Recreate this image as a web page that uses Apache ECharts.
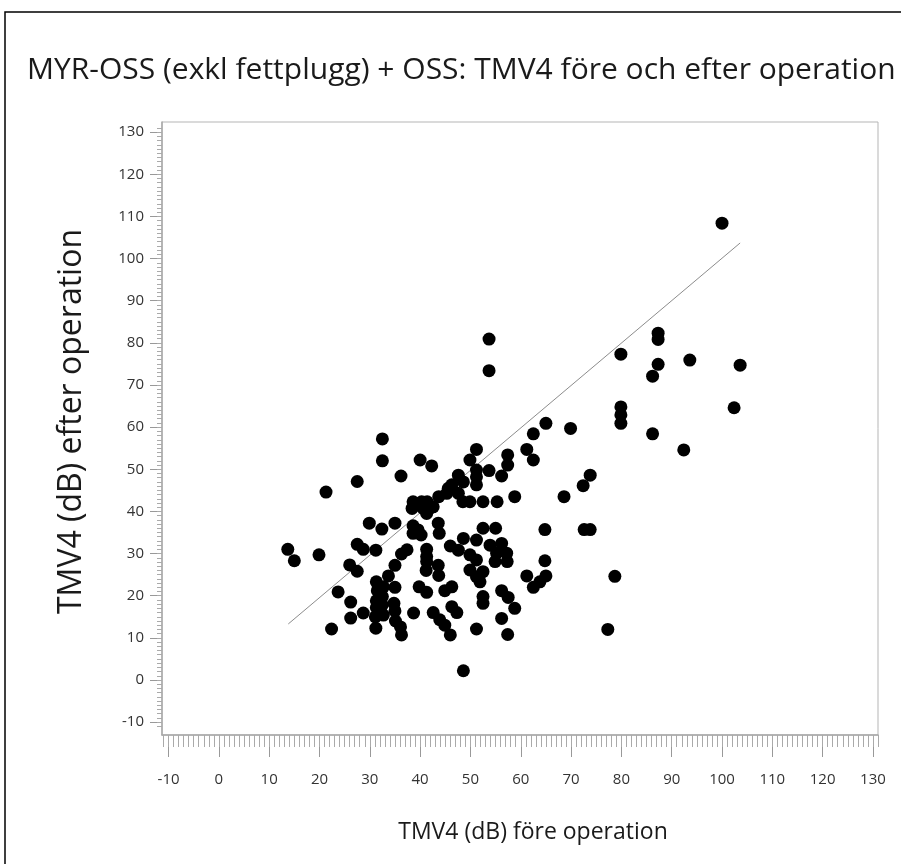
<!DOCTYPE html>
<html>
<head>
<meta charset="utf-8">
<title>TMV4 före och efter operation</title>
<script src="https://cdn.jsdelivr.net/npm/echarts@6/dist/echarts.min.js"></script>
<style>
    html, body { margin: 0; padding: 0; background: #fff; }
    #main { width: 901px; height: 864px; }
</style>
</head>
<body>
<div id="main"></div>
<script>
    // TMV4 (dB) före operation
    var xBefore = [
        13.7, 15.0, 19.9, 21.3, 22.4, 23.7, 26.0, 27.5, 26.2, 26.2,
        28.7, 27.5, 27.5, 28.7, 29.9, 31.2, 32.5, 32.5, 32.4, 35.0,
        36.2, 36.3, 37.4, 35.0, 33.7, 31.3, 31.5, 32.7, 32.5, 31.3,
        32.5, 31.3, 31.1, 32.7, 31.2, 34.8, 35.0, 35.1, 36.1, 36.3,
        35.0, 38.7, 38.6, 39.6, 38.6, 40.2, 38.4, 39.8,
        40.0, 42.3, 43.7, 38.6, 40.3, 41.4, 40.6, 41.9, 42.6, 41.3,
        45.6, 43.6, 43.8, 41.3, 41.3, 41.3, 41.2, 43.6, 43.7, 41.3,
        44.9, 46.3, 42.6, 43.9, 44.9, 46.3, 47.3, 46.0, 46.0, 47.6,
        48.6, 47.6, 48.6, 46.3, 45.3, 47.6, 48.6, 49.9, 48.5, 49.9,
        49.9, 49.9,
        51.2, 51.2, 51.2, 51.2, 53.7, 56.2, 53.7, 53.7, 52.5, 55.3,
        57.4, 57.4, 58.8, 51.2, 51.2, 52.5, 55.0, 53.9, 56.2, 55.2,
        57.2, 54.9, 57.3, 51.2, 52.5, 51.9, 52.5, 52.5, 56.2, 57.5,
        58.8, 56.2, 57.4, 51.2,
        61.2, 62.5, 62.5, 65.0, 69.9, 68.6, 73.8, 72.4, 64.8, 72.6,
        73.8, 64.8, 61.2, 62.5, 63.8, 65.0, 77.3, 78.7, 79.9, 87.3,
        87.3, 87.3, 86.2, 93.6, 103.6, 102.4, 79.9, 79.9, 79.9, 86.2,
        92.4, 100.0
    ];
    // TMV4 (dB) efter operation
    var yAfter = [
        31.0, 28.3, 29.7, 44.6, 12.1, 20.9, 27.3, 25.8, 18.5, 14.7,
        15.9, 47.1, 32.2, 31.0, 37.2, 30.8, 57.2, 52.0, 35.8, 37.2,
        48.4, 29.9, 30.9, 27.2, 24.7, 23.3, 21.2, 22.1, 19.8, 18.8,
        17.8, 17.2, 15.0, 15.4, 12.3, 18.2, 16.4, 14.0, 12.6, 10.7,
        22.0, 15.9, 36.6, 35.6, 34.8, 34.4, 40.7, 22.1,
        52.2, 50.8, 43.5, 42.3, 42.3, 42.3, 40.7, 40.7, 41.1, 39.5,
        45.5, 37.2, 34.8, 31.0, 29.3, 28.1, 26.0, 27.2, 24.8, 20.8,
        21.2, 22.1, 16.0, 14.3, 13.0, 17.4, 16.0, 10.7, 31.8, 30.8,
        33.6, 48.6, 47.0, 46.3, 44.3, 44.3, 2.2, 52.2, 42.3, 42.3,
        29.7, 26.1,
        54.7, 49.8, 48.2, 46.3, 49.7, 48.4, 80.9, 73.4, 42.3, 42.3,
        53.4, 51.0, 43.5, 33.2, 28.5, 36.0, 36.0, 32.0, 32.4, 30.1,
        30.1, 28.1, 28.1, 24.5, 25.7, 23.3, 19.8, 18.2, 21.2, 19.6,
        17.0, 14.6, 10.8, 12.1,
        54.7, 52.2, 58.4, 60.9, 59.7, 43.5, 48.6, 46.1, 35.7, 35.7,
        35.7, 28.3, 24.7, 22.0, 23.3, 24.7, 12.0, 24.6, 77.3, 82.3,
        80.8, 74.9, 72.1, 75.9, 74.7, 64.6, 64.8, 62.9, 60.9, 58.4,
        54.6, 108.4
    ];
    // regression line end points
    var fitX = [13.8, 103.6];
    var fitY = [13.3, 103.7];
    var tickValues = [-10, 0, 10, 20, 30, 40, 50, 60, 70, 80, 90, 100, 110, 120, 130];

    var axisMin = -11.3, axisMax = 131;
    var yMin = -13.05, yMax = 132.4;
    var minorX = [], minorY = [];
    for (var i = -11; i <= 131; i++) {
        if (i >= axisMin && i <= axisMax) minorX.push(i);
        if (i >= yMin && i <= yMax) minorY.push(i);
    }

    var font = '"Open Sans", Lato, sans-serif';

    var points = [];
    for (var k = 0; k < xBefore.length; k++) {
        points.push([xBefore[k], yAfter[k]]);
    }
    var fitLine = [[fitX[0], fitY[0]], [fitX[1], fitY[1]]];

    var myChart = echarts.init(document.getElementById('main'));

    var option = {
        animation: false,
        backgroundColor: '#fff',
        title: {
            text: 'MYR-OSS (exkl fettplugg) + OSS: TMV4 före och efter operation',
            left: 22,
            top: 50,
            textStyle: { fontFamily: font, fontSize: 30, fontWeight: 'normal', color: '#1a1a1a' }
        },
        graphic: [{
            type: 'rect',
            shape: { x: 5, y: 12, width: 1000, height: 1000 },
            style: { fill: 'none', stroke: '#000', lineWidth: 1.5 },
            silent: true
        }],
        grid: {
            left: 162, right: 23, top: 122, bottom: 129,
            show: true,
            borderColor: '#b5b5b5',
            borderWidth: 1,
            outerBoundsMode: 'none'
        },
        xAxis: [
            {
                type: 'value',
                min: axisMin, max: axisMax,
                position: 'bottom',
                name: 'TMV4 (dB) före operation',
                nameLocation: 'middle',
                nameGap: 86,
                nameTextStyle: { fontFamily: font, fontSize: 23, color: '#1a1a1a', padding: [0, 0, 0, 26] },
                axisLine: { show: true, onZero: false, lineStyle: { color: '#a8a8a8', width: 1.5 } },
                axisTick: { show: true, customValues: tickValues, length: 22, lineStyle: { color: '#999' } },
                axisLabel: { customValues: tickValues, margin: 37, fontFamily: font, fontSize: 15, color: '#333' },
                splitLine: { show: false }
            },
            {
                type: 'value',
                min: axisMin, max: axisMax,
                position: 'bottom',
                axisLine: { show: false, onZero: false },
                axisTick: { show: true, customValues: minorX, length: 12, lineStyle: { color: '#aaa' } },
                axisLabel: { show: false },
                splitLine: { show: false }
            }
        ],
        yAxis: [
            {
                type: 'value',
                min: yMin, max: yMax,
                position: 'left',
                name: 'TMV4 (dB) efter operation',
                nameLocation: 'middle',
                nameGap: 74,
                nameTextStyle: { fontFamily: font, fontSize: 32, color: '#1a1a1a', padding: [0, 0, 0, 14] },
                axisLine: { show: true, onZero: false, lineStyle: { color: '#a8a8a8', width: 1.5 } },
                axisTick: { show: true, customValues: tickValues, length: 12, lineStyle: { color: '#999' } },
                axisLabel: { customValues: tickValues, margin: 18, fontFamily: font, fontSize: 15, color: '#333' },
                splitLine: { show: false }
            },
            {
                type: 'value',
                min: yMin, max: yMax,
                position: 'left',
                axisLine: { show: false, onZero: false },
                axisTick: { show: true, customValues: minorY, length: 5, lineStyle: { color: '#aaa' } },
                axisLabel: { show: false },
                splitLine: { show: false }
            }
        ],
        series: [
            {
                type: 'line',
                data: fitLine,
                showSymbol: false,
                lineStyle: { color: '#8c8c8c', width: 1 },
                z: 1
            },
            {
                type: 'scatter',
                data: points,
                symbolSize: 13,
                itemStyle: { color: '#000', opacity: 1 },
                z: 2
            }
        ]
    };

    myChart.setOption(option);
</script>
</body>
</html>
